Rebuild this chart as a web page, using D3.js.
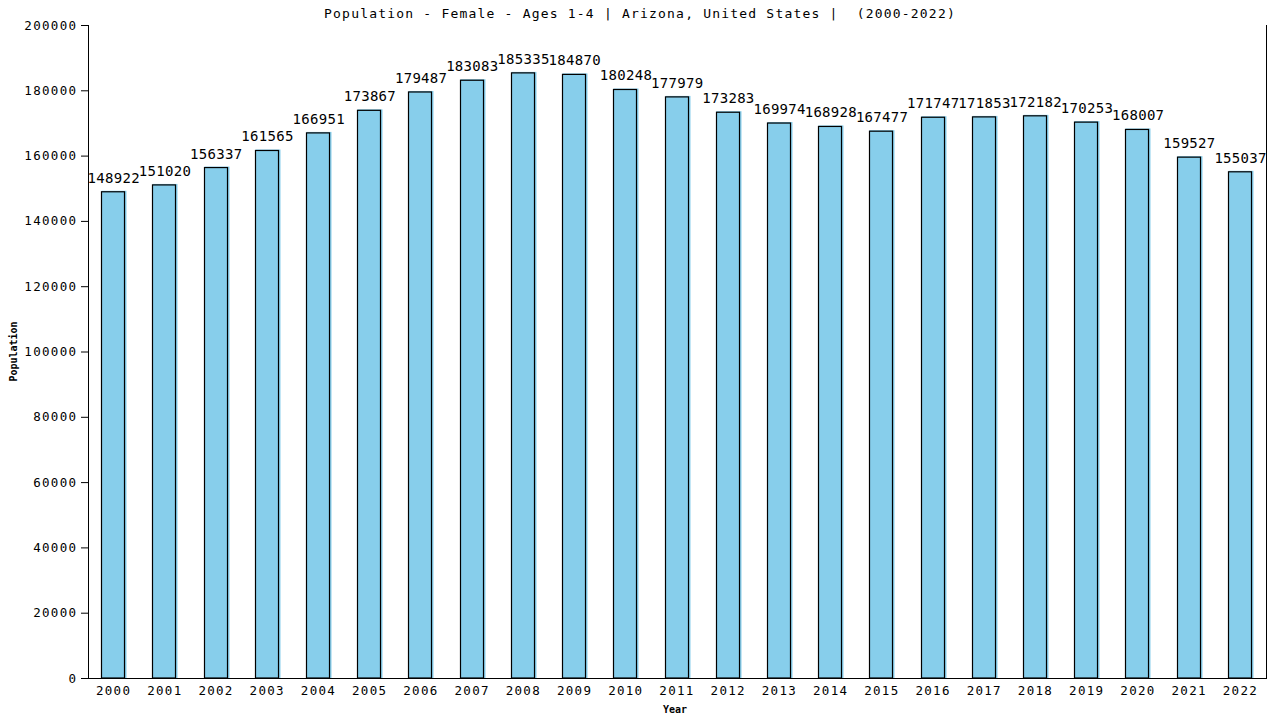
<!DOCTYPE html>
<html>
<head>
<meta charset="utf-8">
<script src="https://cdn.jsdelivr.net/npm/d3@7"></script>
<style>
  body { margin: 0; background: #fff; }
  text { font-family: "DejaVu Sans Mono", monospace; fill: #000; white-space: pre; }
</style>
</head>
<body>
<div id="chart"></div>
<script>
// data
var years = ["2000", "2001", "2002", "2003", "2004", "2005", "2006", "2007", "2008", "2009", "2010", "2011",
             "2012", "2013", "2014", "2015", "2016", "2017", "2018", "2019", "2020", "2021", "2022"];
var population = [148922, 151020, 156337, 161565, 166951, 173867, 179487, 183083, 185335, 184870, 180248, 177979,
                  173283, 169974, 168928, 167477, 171747, 171853, 172182, 170253, 168007, 159527, 155037];
var yTicks = [0, 20000, 40000, 60000, 80000, 100000, 120000, 140000, 160000, 180000, 200000];
var title = "Population - Female - Ages 1-4 | Arizona, United States |  (2000-2022)";

var width = 1280, height = 720;
var plotLeft = 88, plotRight = 1266, plotTop = 25, plotBottom = 678;

var svg = d3.select("#chart")
  .append("svg")
    .attr("width", width)
    .attr("height", height);

var x = d3.scaleBand()
  .domain(years)
  .range([plotLeft, plotRight])
  .padding(0);

var y = d3.scaleLinear()
  .domain([0, 200000])
  .range([plotBottom, plotTop]);

var barW = 23;

// title
svg.append("text")
  .attr("x", 640)
  .attr("y", 18)
  .style("text-anchor", "middle")
  .style("font-size", "13px")
  .style("letter-spacing", "1.2px")
  .text(title);

// bars: blue fill with black outline slightly inset, like the original
var bars = svg.append("g");
years.forEach(function (yr, i) {
  var cx = x(yr) + x.bandwidth() / 2;
  var bx = Math.round(cx - barW / 2) - 0.5;
  bars.append("rect")
    .attr("x", bx)
    .attr("y", y(population[i]) - 1)
    .attr("width", barW + 2)
    .attr("height", plotBottom - y(population[i]) + 1)
    .attr("fill", "#87ceeb");
  bars.append("rect")
    .attr("x", bx)
    .attr("y", y(population[i]))
    .attr("width", barW)
    .attr("height", plotBottom - y(population[i]))
    .attr("fill", "none")
    .attr("stroke", "#000")
    .attr("stroke-width", 1.2);
});

// value labels
svg.append("g")
  .selectAll("text")
  .data(population)
  .enter()
    .append("text")
    .attr("x", (d, i) => x(years[i]) + x.bandwidth() / 2 + 0.2)
    .attr("y", d => y(d) - 9)
    .style("text-anchor", "middle")
    .style("font-size", "14px")
    .style("letter-spacing", "0.3px")
    .text(d => d);

// Y axis
svg.append("g")
  .attr("transform", "translate(" + plotLeft + ",0)")
  .call(d3.axisLeft(y)
    .tickValues(yTicks)
    .tickSize(7)
    .tickPadding(5)
    .tickFormat(d => d))
  .call(g => g.select(".domain").attr("d", "M0.5," + plotTop + "V" + (plotBottom + 0.5)).attr("stroke", "#000"))
  .call(g => g.selectAll(".tick line").attr("stroke", "#000"))
  .call(g => g.selectAll(".tick text")
    .style("font-size", "12.5px")
    .style("letter-spacing", "1.3px")
    .attr("dx", "1.3px")
    .attr("fill", "#000"));

// X axis
svg.append("g")
  .attr("transform", "translate(0," + plotBottom + ")")
  .call(d3.axisBottom(x).tickSize(0).tickPadding(8))
  .call(g => g.select(".domain").attr("d", "M" + plotLeft + ",0.5H" + plotRight).attr("stroke", "#000"))
  .call(g => g.selectAll(".tick text")
    .style("font-size", "12.5px")
    .style("letter-spacing", "1.3px")
    .attr("fill", "#000"));

// right border
svg.append("line")
  .attr("x1", plotRight + 0.5).attr("x2", plotRight + 0.5)
  .attr("y1", plotTop).attr("y2", plotBottom + 1)
  .attr("stroke", "#000");

// axis titles
svg.append("text")
  .attr("x", 675)
  .attr("y", 713)
  .style("text-anchor", "middle")
  .style("font-size", "10px")
  .style("font-weight", "bold")
  .text("Year");

svg.append("text")
  .attr("transform", "translate(17," + ((plotTop + plotBottom) / 2) + ") rotate(-90)")
  .style("text-anchor", "middle")
  .style("font-size", "10px")
  .style("font-weight", "bold")
  .text("Population");
</script>
</body>
</html>
